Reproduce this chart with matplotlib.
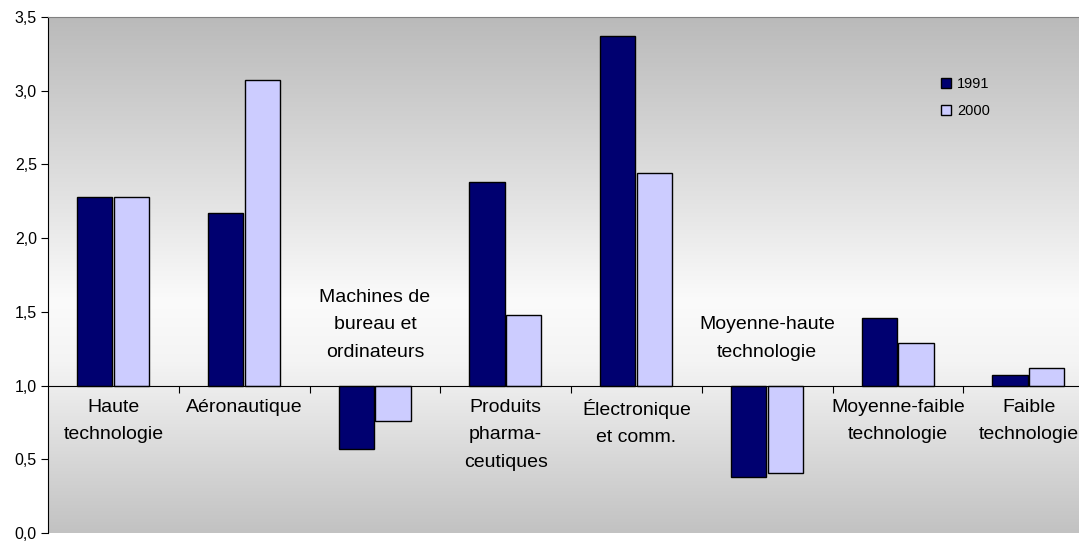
import matplotlib.pyplot as plt
import numpy as np
from matplotlib.colors import LinearSegmentedColormap
from matplotlib.ticker import FuncFormatter

categories = ["Haute\ntechnologie", "Aéronautique", "Machines de\nbureau et\nordinateurs",
              "Produits\npharma-\nceutiques", "Électronique\net comm.",
              "Moyenne-haute\ntechnologie", "Moyenne-faible\ntechnologie", "Faible\ntechnologie"]
v1991 = [2.28, 2.17, 0.57, 2.38, 3.37, 0.38, 1.46, 1.07]
v2000 = [2.28, 3.07, 0.76, 1.48, 2.44, 0.41, 1.29, 1.12]
base = 1.0

plt.rcParams['font.family'] = ['Liberation Sans', 'DejaVu Sans']

fig = plt.figure(figsize=(10.79, 5.42), dpi=100)
ax = fig.add_axes([48 / 1079, 9 / 542, 1046 / 1079, 516 / 542])

n = len(categories)
x = np.arange(n)

# gradient background
grad = LinearSegmentedColormap.from_list("bg", [(0, "#c2c2c2"), (0.33, "#f4f4f4"), (0.45, "#fbfbfb"), (0.62, "#e6e6e6"), (1.0, "#bababa")])
ax.imshow(np.linspace(0, 1, 256).reshape(-1, 1), cmap=grad, aspect='auto',
          extent=[-0.5, n - 0.5, 0, 3.5], origin='lower', zorder=0)

w = 0.27
ax.bar(x - 0.143, np.array(v1991) - base, w, bottom=base, color="#000070",
       edgecolor="black", linewidth=1, label="1991", zorder=2)
ax.bar(x + 0.138, np.array(v2000) - base, w, bottom=base, color="#ccccff",
       edgecolor="black", linewidth=1, label="2000", zorder=2)

for i, lab in enumerate(categories):
    if v1991[i] < base:
        ax.text(i, 1.17, lab, ha='center', va='bottom', fontsize=14, linespacing=1.8)
    else:
        ax.text(i, 0.91, lab, ha='center', va='top', fontsize=14, linespacing=1.8)

ax.set_xlim(-0.5, n - 0.5)
ax.set_ylim(0, 3.5)
ax.set_yticks(np.arange(0, 3.51, 0.5))
ax.yaxis.set_major_formatter(FuncFormatter(lambda v, p: f"{v:.1f}".replace('.', ',')))
ax.set_xticks(np.arange(0.5, n - 0.5, 1))
ax.set_xticklabels([])
ax.spines['bottom'].set_position(('data', base))
ax.spines['bottom'].set_zorder(3)
ax.spines['right'].set_visible(False)
ax.spines['top'].set_color('#808080')
ax.tick_params(axis='y', direction='out', length=5, labelsize=11.5, pad=3)
ax.tick_params(axis='x', direction='out', length=5)

ax.legend(loc='upper left', bbox_to_anchor=(928 / 1079, 1 - 64 / 542), bbox_transform=fig.transFigure,
          frameon=False, fontsize=10.5, handlelength=0.7, handleheight=0.7, handletextpad=0.4,
          labelspacing=0.9)

fig.savefig("out.png", dpi=100)
